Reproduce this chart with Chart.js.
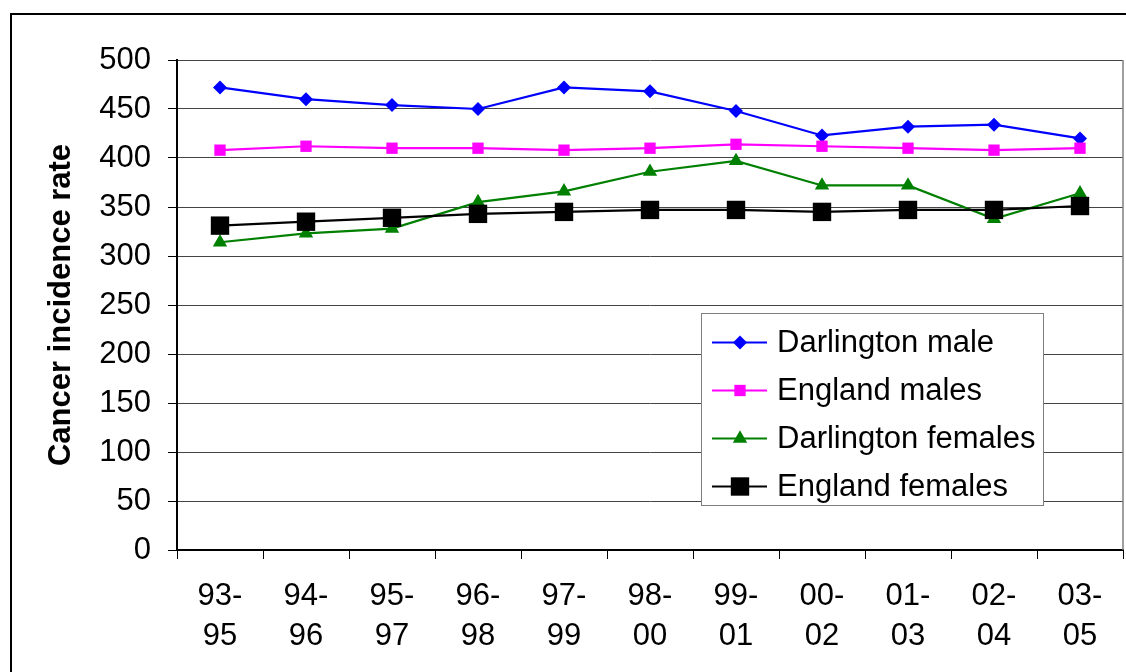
<!DOCTYPE html>
<html>
<head>
<meta charset="utf-8">
<script src="https://cdn.jsdelivr.net/npm/chart.js@4.4.1/dist/chart.umd.min.js"></script>
<style>
  html, body { margin: 0; padding: 0; background: #fff; overflow: hidden; }
  #wrap { width: 1126px; height: 672px; overflow: hidden; }
</style>
</head>
<body>
<div id="wrap"><canvas id="chart" width="1136" height="672"></canvas></div>
<script>
// periods (3-year rolling), two-line tick labels
const periods = [
  ['93-', '95'], ['94-', '96'], ['95-', '97'], ['96-', '98'], ['97-', '99'], ['98-', '00'],
  ['99-', '01'], ['00-', '02'], ['01-', '03'], ['02-', '04'], ['03-', '05']
];

const darlingtonMale    = [472, 460, 454, 450, 472, 468, 448, 423, 432, 434, 420];
const englandMales      = [408, 412, 410, 410, 408, 410, 414, 412, 410, 408, 410];
const darlingtonFemales = [314, 323, 328, 355, 366, 386, 397, 372, 372, 338, 364];
const englandFemales    = [331, 335, 339, 343, 345, 347, 347, 345, 347, 347, 351];

const seriesNames = ['Darlington male', 'England males', 'Darlington females', 'England females'];
const yMin = 0, yMax = 500, yStep = 50;

const FONT = '"Liberation Sans", Arial, sans-serif';

// white page + the outer black frame
const frame = {
    id: 'frame',
    beforeDraw(chart) {
        const ctx = chart.ctx;
        ctx.save();
        ctx.fillStyle = '#fff';
        ctx.fillRect(0, 0, chart.width, chart.height);
        ctx.strokeStyle = '#000';
        ctx.lineWidth = 2;
        ctx.strokeRect(11, 14, chart.width + 20, chart.height + 20);
        ctx.restore();
    },
    beforeDatasetsDraw(chart) {
        // grey right edge of the plot area
        const a = chart.chartArea, ctx = chart.ctx;
        ctx.save();
        ctx.strokeStyle = '#7f7f7f';
        ctx.lineWidth = 1.5;
        ctx.beginPath();
        ctx.moveTo(a.right, a.top);
        ctx.lineTo(a.right, a.bottom);
        ctx.stroke();
        ctx.restore();
    }
};

// boxed legend sitting inside the plot
const boxLegend = {
    id: 'boxLegend',
    afterDraw(chart) {
        const ctx = chart.ctx;
        const x0 = 701.5, y0 = 313.5, w = 342, h = 192;
        ctx.save();
        ctx.fillStyle = '#fff';
        ctx.fillRect(x0, y0, w, h);
        ctx.strokeStyle = '#7f7f7f';
        ctx.lineWidth = 1;
        ctx.strokeRect(x0, y0, w, h);
        chart.data.datasets.forEach((ds, i) => {
            const cy = y0 + 29 + i * 48;
            ctx.strokeStyle = ds.borderColor;
            ctx.lineWidth = 2;
            ctx.beginPath();
            ctx.moveTo(712, cy);
            ctx.lineTo(767, cy);
            ctx.stroke();
            ctx.fillStyle = ds.pointBackgroundColor;
            Chart.helpers.drawPoint(ctx, {
                pointStyle: ds.pointStyle, radius: ds.pointRadius, rotation: 0, borderWidth: 0
            }, 740, cy);
            ctx.fillStyle = '#000';
            ctx.font = '31px ' + FONT;
            ctx.textBaseline = 'middle';
            ctx.textAlign = 'left';
            ctx.fillText(ds.label, 777, cy + 1);
        });
        ctx.restore();
    }
};

function makeSet(label, data, color, style, radius, order) {
    return {
        label: label,
        data: data,
        borderColor: color,
        backgroundColor: color,
        pointBackgroundColor: color,
        pointBorderColor: color,
        pointBorderWidth: 0,
        pointStyle: style,
        pointRadius: radius,
        borderWidth: 2.2,
        tension: 0,
        fill: false,
        order: order
    };
}

const chart = new Chart(document.getElementById('chart').getContext('2d'), {
    type: 'line',
    data: {
        labels: periods,
        datasets: [
            makeSet(seriesNames[0], darlingtonMale, '#0000ff', 'rectRot', 7, 4),
            makeSet(seriesNames[1], englandMales, '#ff00ff', 'rect', 8, 3),
            makeSet(seriesNames[2], darlingtonFemales, '#008000', 'triangle', 8.3, 2),
            makeSet(seriesNames[3], englandFemales, '#000000', 'rect', 13, 1)
        ]
    },
    options: {
        responsive: false,
        animation: false,
        devicePixelRatio: 1,
        layout: { padding: { top: 60, right: 4, left: 0, bottom: 0 } },
        plugins: {
            legend: { display: false },
            tooltip: { enabled: false }
        },
        scales: {
            x: {
                offset: true,
                grid: { display: true, drawOnChartArea: false, drawTicks: true, tickLength: 9, color: '#000', offset: true },
                border: { color: '#000', width: 2 },
                ticks: {
                    color: '#000', font: { family: FONT, size: 31, lineHeight: 1.28 },
                    padding: 18, maxRotation: 0, autoSkip: false
                },
                afterFit(s) { s.height = 122; }
            },
            y: {
                min: yMin,
                max: yMax,
                grid: { color: '#444', tickColor: '#000', tickLength: 9, lineWidth: 1 },
                border: { color: '#000', width: 2 },
                ticks: {
                    stepSize: yStep, color: '#000', padding: 17,
                    font: { family: FONT, size: 31 }
                },
                title: {
                    display: true,
                    text: 'Cancer incidence rate',
                    color: '#000',
                    font: { family: FONT, size: 31, weight: 'bold', lineHeight: 1.2 },
                    padding: { top: 43, bottom: 0 }
                },
                afterFit(s) { s.width = 177; }
            }
        }
    },
    plugins: [frame, boxLegend]
});
</script>
</body>
</html>
